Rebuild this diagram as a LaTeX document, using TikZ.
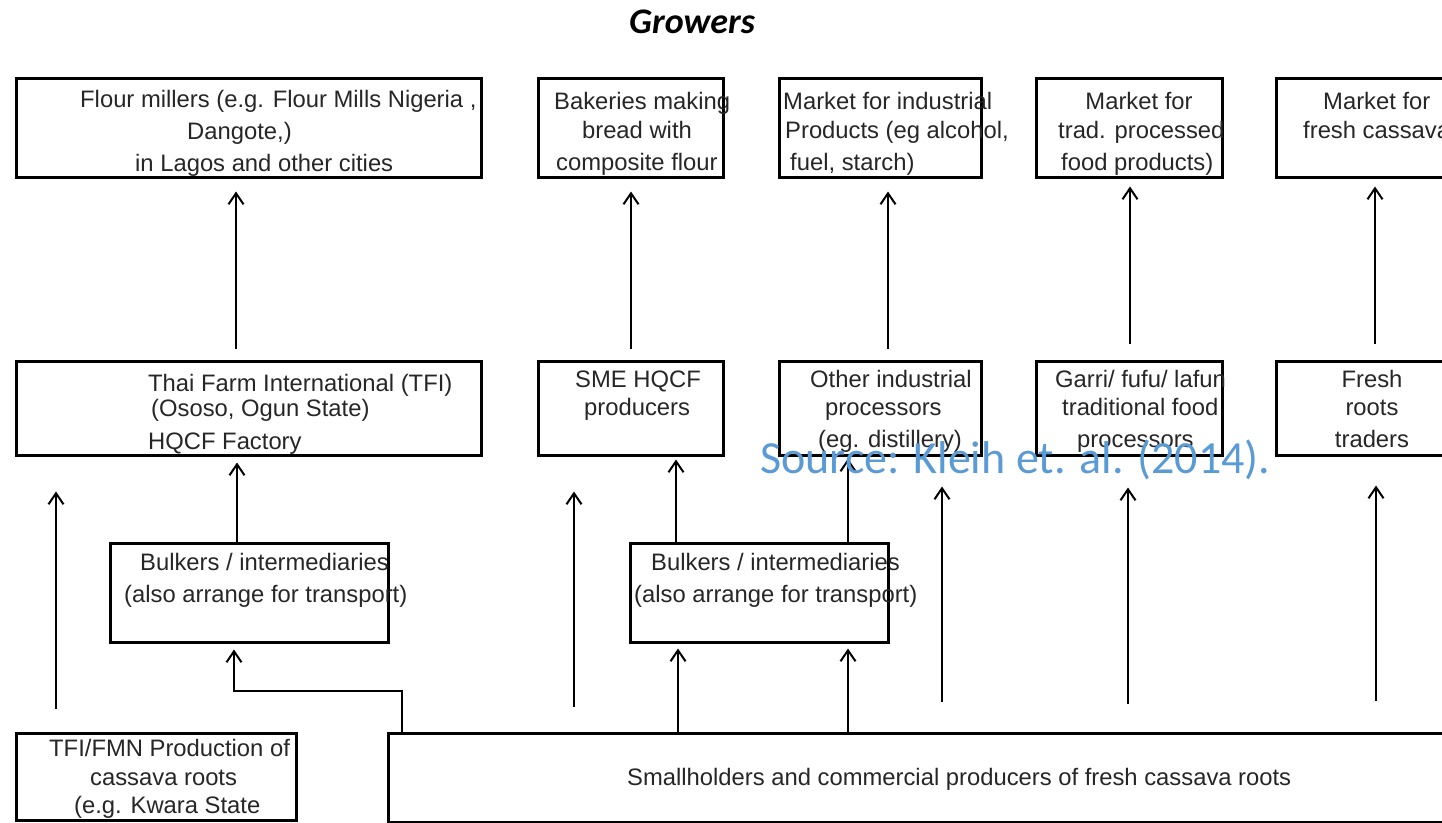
\documentclass[tikz,border=0pt]{standalone}
\usepackage{fontspec}
\setmainfont{Liberation Sans}
\newfontfamily\calibri{Carlito}
\usetikzlibrary{arrows.meta}
\definecolor{srcblue}{HTML}{5B9BD5}
\tikzset{
  box/.style={draw=black, line width=3pt, rectangle, inner sep=0pt},
  lbl/.style={anchor=base west, inner sep=0pt, font=\fontsize{23.8}{28}\selectfont, text=black!85},
  clbl/.style={lbl, anchor=base},
  arr/.style={line width=2pt, -{Straight Barb[length=11pt,width=15pt,line width=2pt]}},
  thinarr/.style={line width=1.3pt, -{Straight Barb[length=11pt,width=15pt,line width=2pt]}},
}
\newcommand\mkbox[5]{\node[box, minimum width={#4-#2}, minimum height={#5-#3}] (#1) at ({(#2+#4)/2},{(#3+#5)/2}) {};}
\begin{document}
\begin{tikzpicture}[x=1pt, y=-1pt]
\useasboundingbox (0,0) rectangle (1442,822);
\clip (0,0) rectangle (1442,822);
% boxes
\mkbox{fm}{16}{78}{481}{177}
\mkbox{bak}{538}{78}{723}{177}
\mkbox{mind}{779}{78}{981}{177}
\mkbox{mtrad}{1036}{78}{1222}{177}
\mkbox{mfresh}{1276}{78}{1500}{177}
\mkbox{tfi}{16}{361}{481}{455}
\mkbox{sme}{538}{361}{723}{455}
\mkbox{oind}{779}{361}{981}{455}
\mkbox{garri}{1036}{361}{1222}{455}
\mkbox{froots}{1276}{361}{1500}{455}
\mkbox{bulkA}{110}{543}{388}{642}
\mkbox{bulkB}{630}{543}{888}{642}
\mkbox{tfifmn}{16}{733}{296}{820}
\mkbox{small}{388}{733}{1500}{822.5}
% arrows top row
\draw[arr, shorten <=11pt, shorten >=13pt] (tfi.north -| 236,0) -- (fm.south -| 236,0);
\draw[arr, shorten <=11pt, shorten >=13pt] (sme.north -| 631,0) -- (bak.south -| 631,0);
\draw[arr, shorten <=11pt, shorten >=13pt] (oind.north -| 888,0) -- (mind.south -| 888,0);
\draw[arr, shorten <=16pt, shorten >=8pt] (garri.north -| 1130,0) -- (mtrad.south -| 1130,0);
\draw[arr, shorten <=16pt, shorten >=8pt] (froots.north -| 1375,0) -- (mfresh.south -| 1375,0);
% middle arrows
\draw[arr, shorten >=6pt] (bulkA.north -| 237,0) -- (tfi.south -| 237,0);
\draw[arr, shorten <=23pt, shorten >=35pt] (tfifmn.north -| 56,0) -- (tfi.south -| 56,0);
\draw[thinarr, shorten >=6pt] (small.north -| 402,0) -- (402,691) -| (bulkA.south -| 234,0);
\draw[arr, shorten <=25pt, shorten >=35pt] (small.north -| 574,0) -- (sme.south -| 574,0);
\draw[arr, shorten >=3pt] (bulkB.north -| 676,0) -- (sme.south -| 676,0);
\draw[arr, shorten >=2pt] (bulkB.north -| 848,0) -- (oind.south -| 848,0);
\draw[arr, shorten <=30pt, shorten >=30pt] (small.north -| 942,0) -- (oind.south -| 942,0);
\draw[arr, shorten >=5pt] (small.north -| 678,0) -- (bulkB.south -| 678,0);
\draw[arr, shorten >=5pt] (small.north -| 848,0) -- (bulkB.south -| 848,0);
\draw[arr, shorten <=28pt, shorten >=31pt] (small.north -| 1128,0) -- (garri.south -| 1128,0);
\draw[arr, shorten <=31pt, shorten >=29pt] (small.north -| 1376,0) -- (froots.south -| 1376,0);
% title
\node[anchor=base west, inner sep=0pt, font=\calibri\bfseries\itshape\fontsize{36}{40}\selectfont] (title) at (629,33) {Growers};
% top row texts
\node[lbl] (fmA) at (80,107) {Flour millers (e.g. Flour Mills Nigeria ,};
\node[lbl] (fmB) at (187,139) {Dangote,)};
\node[lbl] (fmC) at (135,171) {in Lagos and other cities};
\node[lbl] (bakA) at (554,109) {Bakeries making};
\node[clbl] (bakB) at (637,138) {bread with};
\node[lbl] (bakC) at (556,170) {composite flour};
\node[lbl] (mindA) at (783,109) {Market for industrial};
\node[lbl] (mindB) at (785,138) {Products (eg alcohol,};
\node[lbl] (mindC) at (790,170) {fuel, starch)};
\node[clbl] (mtradA) at (1139,109) {Market for};
\node[lbl] (mtradB) at (1058,138) {trad. processed};
\node[lbl] (mtradC) at (1061,170) {food products)};
\node[lbl] (mfreshA) at (1323,109) {Market for};
\node[lbl] (mfreshB) at (1303,138) {fresh cassava};
% second row texts
\node[lbl] (tfiA) at (148,391) {Thai Farm International (TFI)};
\node[lbl] (tfiB) at (151,416) {(Ososo, Ogun State)};
\node[lbl] (tfiC) at (148,449) {HQCF Factory};
\node[lbl] (smeA) at (575,387) {SME HQCF};
\node[lbl] (smeB) at (584,415) {producers};
\node[lbl] (oindA) at (810,387) {Other industrial};
\node[lbl] (oindB) at (825,415) {processors};
\node[lbl] (oindC) at (818,447) {(eg. distillery)};
\node[lbl] (garriA) at (1055,387) {Garri/ fufu/ lafun};
\node[lbl] (garriB) at (1062,415) {traditional food};
\node[lbl] (garriC) at (1077,447) {processors};
\node[clbl] (frootsA) at (1372,387) {Fresh};
\node[clbl] (frootsB) at (1372,415) {roots};
\node[clbl] (frootsC) at (1372,447) {traders};
% bulkers
\node[lbl] (bulkAa) at (140,570) {Bulkers / intermediaries};
\node[lbl] (bulkAb) at (124,602) {(also arrange for transport)};
\node[lbl] (bulkBa) at (651,570) {Bulkers / intermediaries};
\node[lbl] (bulkBb) at (634,602) {(also arrange for transport)};
% bottom
\node[lbl] (tfifmnA) at (49,756) {TFI/FMN Production of};
\node[lbl] (tfifmnB) at (90,785) {cassava roots};
\node[lbl] (tfifmnC) at (74,813) {(e.g. Kwara State};
\node[lbl] (smallA) at (627,785) {Smallholders and commercial producers of fresh cassava roots};
% source
\node[anchor=base west, inner sep=0pt, text=srcblue, font=\calibri\fontsize{46}{50}\selectfont] (source) at (760,473) {Source: Kleih et. al. (2014).};
\end{tikzpicture}
\end{document}
